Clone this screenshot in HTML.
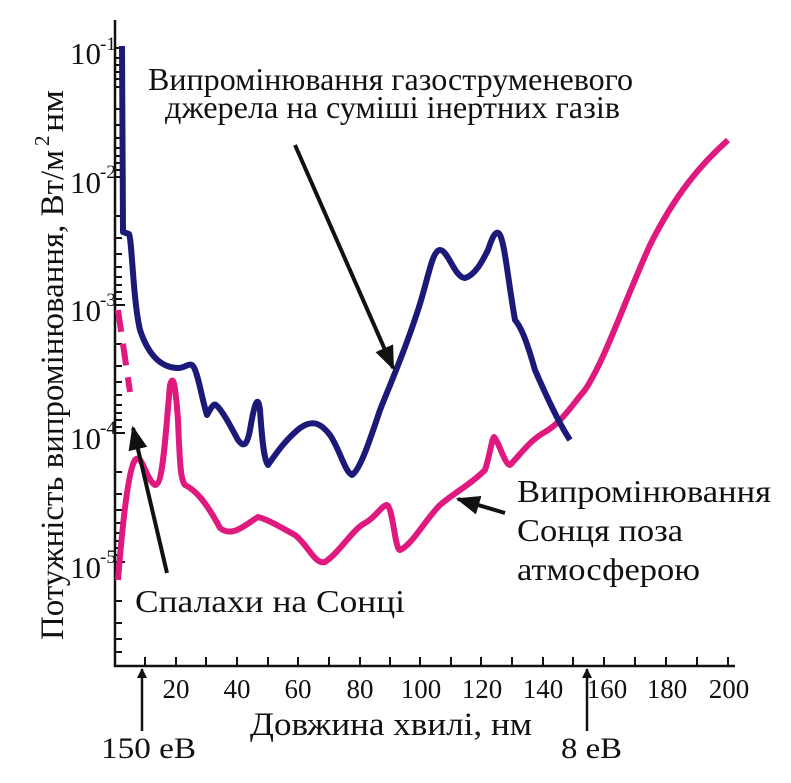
<!DOCTYPE html>
<html><head><meta charset="utf-8"><style>
html,body{margin:0;padding:0;background:#fff}
svg{display:block}
</style></head><body>
<svg width="791" height="783" viewBox="0 0 791 783" font-family="'Liberation Serif', 'Noto Serif CJK SC', 'DejaVu Serif', serif" fill="#111">
<defs><marker id="ah" markerWidth="10" markerHeight="10" refX="9" refY="5" orient="auto" markerUnits="userSpaceOnUse" viewBox="0 0 10 10"><path d="M0,0 L10,5 L0,10 z" fill="#111"/></marker>
<marker id="ah2" viewBox="0 0 10 10" refX="9" refY="5" markerWidth="24" markerHeight="24" orient="auto" markerUnits="userSpaceOnUse"><path d="M0,1 L10,5 L0,9 z" fill="#111"/></marker></defs>
<g stroke="#111" stroke-width="2.5" fill="none">
<line x1="115" y1="20" x2="115" y2="667"/>
<line x1="114" y1="666" x2="735" y2="666"/>
</g>
<g stroke="#111" stroke-width="2">
<path d="M145 666v-9M176 666v-9M206 666v-9M237 666v-9M268 666v-9M298 666v-9M329 666v-9M360 666v-9M390 666v-9M420 666v-9M451 666v-9M481 666v-9M512 666v-9M543 666v-9M573 666v-9M604 666v-9M635 666v-9M666 666v-9M697 666v-9M728 666v-9"/>
<path d="M115 48h10M115 177h10M115 305h10M115 433h10M115 562h10
M115 87h7M115 109h7M115 125h7M115 138h7M115 148h7M115 156h7M115 163h7M115 170h7
M115 216h7M115 238h7M115 254h7M115 267h7M115 277h7M115 285h7M115 292h7M115 299h7
M115 344h7M115 366h7M115 382h7M115 395h7M115 405h7M115 413h7M115 420h7M115 427h7
M115 472h7M115 494h7M115 510h7M115 523h7M115 533h7M115 541h7M115 548h7M115 555h7
M115 601h7M115 623h7M115 639h7M115 652h7
M115 58h7M115 65h7M115 72h7M115 79h7"/>
</g>
<g font-size="31">
<text x="70" y="64">10</text><text x="100" y="50" font-size="19">-1</text>
<text x="70" y="193">10</text><text x="100" y="178" font-size="19">-2</text>
<text x="70" y="321">10</text><text x="100" y="306" font-size="19">-3</text>
<text x="70" y="449">10</text><text x="100" y="434" font-size="19">-4</text>
<text x="70" y="578">10</text><text x="100" y="563" font-size="19">-5</text>
</g>
<g font-size="27" text-anchor="middle">
<text x="176" y="698">20</text><text x="237" y="698">40</text><text x="298" y="698">60</text><text x="360" y="698">80</text>
<text x="421" y="698">100</text><text x="482" y="698">120</text><text x="543" y="698">140</text><text x="607" y="698">160</text><text x="667" y="698">180</text><text x="729" y="698">200</text>
</g>
<text x="250" y="735" font-size="33" textLength="282" lengthAdjust="spacingAndGlyphs">Довжина хвилі, нм</text>
<g transform="translate(63,640) rotate(-90)"><text x="0" y="0" font-size="33" textLength="490" lengthAdjust="spacingAndGlyphs">Потужність випромінювання, Вт/м</text><text x="494" y="-14" font-size="21">2</text><text x="508" y="0" font-size="33" textLength="42" lengthAdjust="spacingAndGlyphs">нм</text></g>
<text x="148" y="90" font-size="32" textLength="485" lengthAdjust="spacingAndGlyphs">Випромінювання газоструменевого</text>
<text x="165" y="118" font-size="32" textLength="455" lengthAdjust="spacingAndGlyphs">джерела на суміші інертних газів</text>
<text x="517" y="502" font-size="32" textLength="254" lengthAdjust="spacingAndGlyphs">Випромінювання</text>
<text x="517" y="541" font-size="32" textLength="166" lengthAdjust="spacingAndGlyphs">Сонця поза</text>
<text x="517" y="580" font-size="32" textLength="183" lengthAdjust="spacingAndGlyphs">атмосферою</text>
<text x="135" y="612" font-size="32" textLength="270" lengthAdjust="spacingAndGlyphs">Спалахи на Сонці</text>
<text x="101" y="758" font-size="30" textLength="95" lengthAdjust="spacingAndGlyphs">150 еВ</text>
<text x="561" y="758" font-size="30" textLength="61" lengthAdjust="spacingAndGlyphs">8 еВ</text>
<path d="M118 310 L130 392" stroke="#e0197f" stroke-width="6" fill="none" stroke-dasharray="22,12"/>
<path d="M118 580 C122 530,128 470,135 460 C142 452,146 480,155 485 C163 485,165 440,170 385 C173 375,175 380,178 420 C180 470,181 480,185 485 C195 490,205 500,220 528 C232 538,245 525,258 517 C270 520,285 530,295 535 C308 545,315 565,325 562 C340 552,352 530,365 523 C375 518,382 505,387 505 C393 508,395 550,400 550 C412 545,425 520,440 505 C455 492,470 485,485 470 C490 455,492 438,494 437 C498 440,505 465,510 465 C520 455,530 440,545 432 C562 422,572 405,585 390 C605 360,625 300,650 245 C675 195,700 165,728 140" stroke="#e0197f" stroke-width="6" fill="none" stroke-linejoin="round"/>
<path d="M122 46 L123 232 L129 234 C132 240,133 300,140 330 C150 360,165 368,178 368 C185 368,190 362,193 366 C198 372,202 400,207 415 C210 410,213 403,216 405 C222 410,230 425,238 440 C244 448,247 445,250 430 C255 400,258 395,260 410 C262 440,264 460,268 465 C275 455,285 440,300 428 C312 420,320 422,330 435 C340 450,345 472,352 475 C360 470,370 440,380 410 C392 380,405 350,418 310 C428 280,432 250,440 250 C448 250,455 278,465 278 C475 275,482 262,488 250 C492 238,496 228,500 235 C505 245,508 280,515 320 C520 326,525 335,535 370 C548 400,560 425,570 440" stroke="#1c1a78" stroke-width="6" fill="none" stroke-linejoin="round"/>
<g stroke="#111" stroke-width="4" fill="none">
<line x1="295" y1="145" x2="393" y2="368" marker-end="url(#ah2)"/>
<line x1="505" y1="513" x2="458" y2="499" marker-end="url(#ah2)"/>
<line x1="167" y1="573" x2="133" y2="428" marker-end="url(#ah2)"/>
<line x1="142" y1="731" x2="142" y2="669" stroke-width="2.5" marker-end="url(#ah)"/>
<line x1="587" y1="731" x2="587" y2="669" stroke-width="2.5" marker-end="url(#ah)"/>
</g>
</svg>
</body></html>
